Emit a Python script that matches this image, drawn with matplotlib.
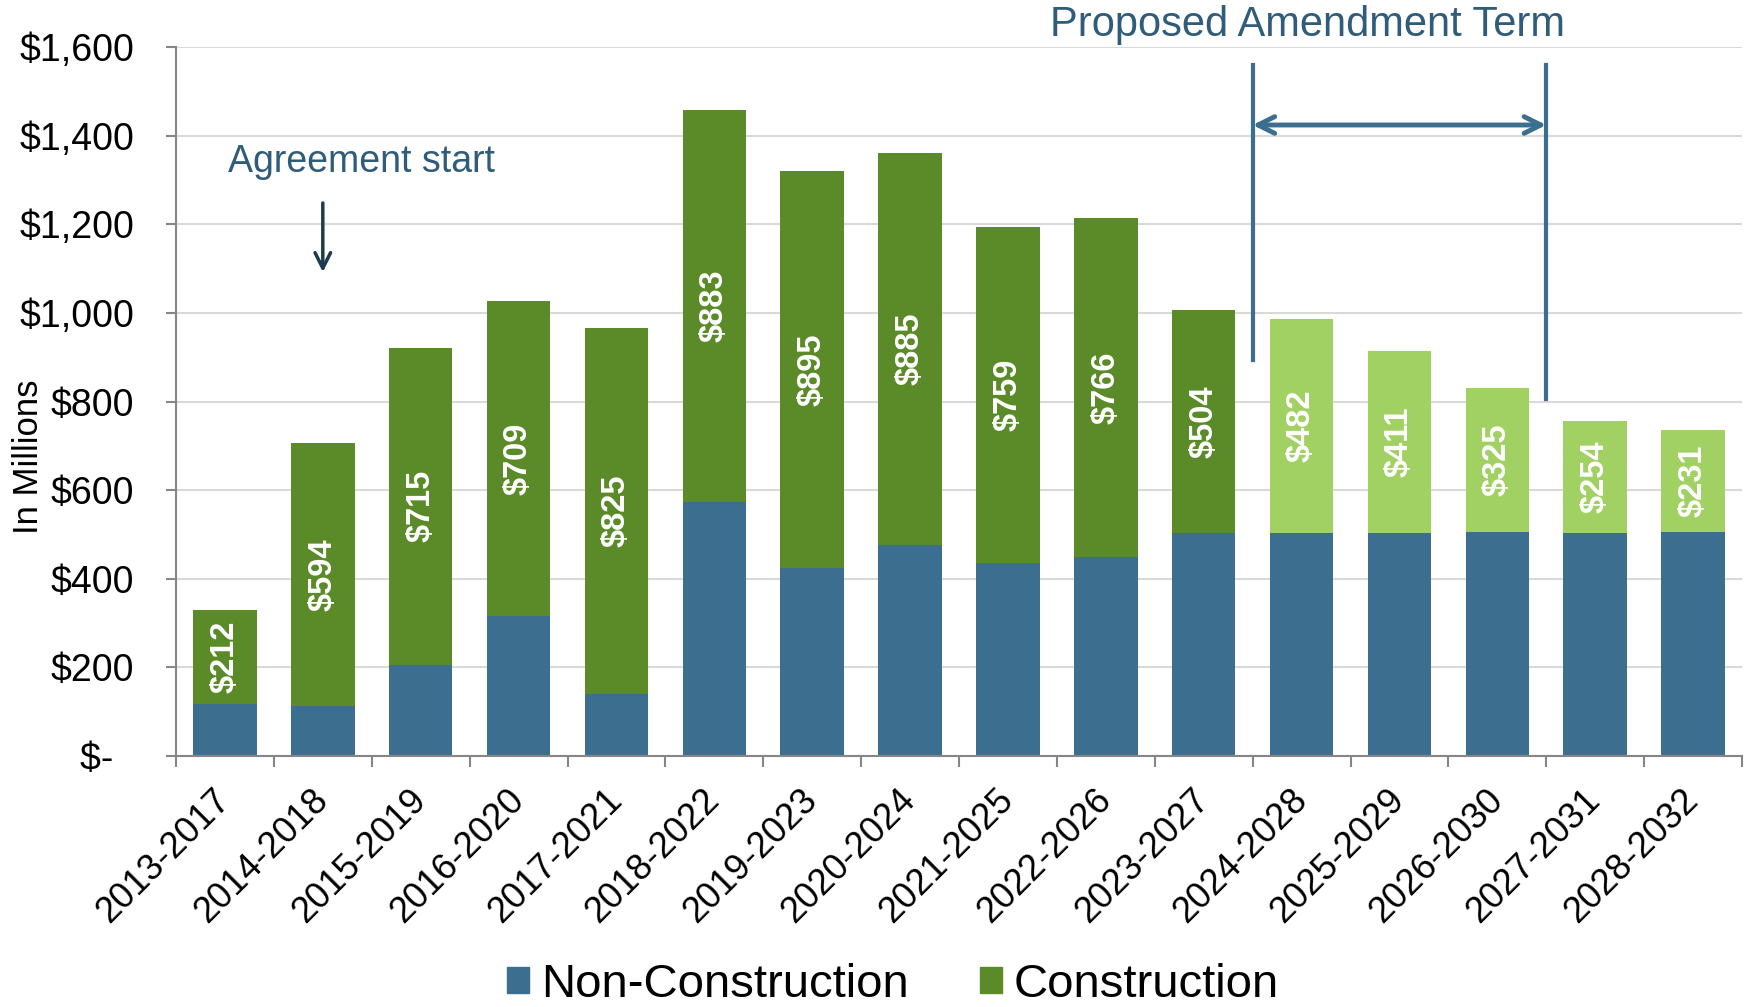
import matplotlib.pyplot as plt
from matplotlib.patches import Patch
from matplotlib.ticker import FuncFormatter, FixedLocator

plt.rcParams['font.family'] = ['Liberation Sans', 'DejaVu Sans']

categories = ['2013-2017', '2014-2018', '2015-2019', '2016-2020', '2017-2021',
              '2018-2022', '2019-2023', '2020-2024', '2021-2025', '2022-2026',
              '2023-2027', '2024-2028', '2025-2029', '2026-2030', '2027-2031',
              '2028-2032']
non_construction = [118, 113, 206, 317, 141, 574, 425, 476, 435, 448,
                    503, 504, 504, 505, 503, 505]
construction = [212, 594, 715, 709, 825, 883, 895, 885, 759, 766,
                504, 482, 411, 325, 254, 231]
amendment_first = '2024-2028'
amendment_last = '2026-2030'

BLUE = '#3b6e8f'
GREEN = '#5b8a29'
LIGHT_GREEN = '#a1d063'
NOTE_BLUE = '#2f5c7a'


def money(v, pos):
    if v == 0:
        return '$-  '
    return f'${v:,.0f}'


def main():
    fig = plt.figure(figsize=(17.48, 10.07), dpi=100)
    ax = fig.add_axes([176 / 1748, 1 - 756 / 1007, (1742 - 176) / 1748, (756 - 47) / 1007])

    x = list(range(len(categories)))
    split = categories.index(amendment_first)
    green_colors = [GREEN if i < split else LIGHT_GREEN for i in x]

    ax.bar(x, non_construction, width=0.65, color=BLUE, zorder=2)
    ax.bar(x, construction, width=0.65, bottom=non_construction, color=green_colors, zorder=2)

    for i in x:
        mid = non_construction[i] + construction[i] / 2
        ax.text(i, mid, f'${construction[i]}', rotation=90, ha='center', va='center',
                color='white', fontsize=23.5, fontweight='bold', zorder=3)

    ax.set_xlim(-0.5, len(categories) - 0.5)
    ax.set_ylim(0, 1600)
    ax.set_yticks(range(0, 1601, 200))
    ax.yaxis.set_major_formatter(FuncFormatter(money))
    ax.grid(axis='y', color='#d9d9d9', linewidth=1.5, zorder=0)

    ax.set_xticks(x)
    ax.set_xticklabels(categories, rotation=45, ha='right', va='center',
                       rotation_mode='anchor', fontsize=26)
    ax.xaxis.set_minor_locator(FixedLocator([i - 0.5 for i in range(len(categories) + 1)]))
    ax.tick_params(axis='x', which='major', length=0, pad=28)
    ax.tick_params(axis='x', which='minor', length=8, width=1.5, color='#868686')
    ax.tick_params(axis='y', length=7, width=1.5, color='#868686', pad=23, labelsize=27)

    for side in ['top', 'right']:
        ax.spines[side].set_visible(False)
    for side in ['left', 'bottom']:
        ax.spines[side].set_color('#868686')
        ax.spines[side].set_linewidth(1.5)

    fig.text(28 / 1748, 1 - 457 / 1007, 'In Millions', rotation=90, ha='center', va='center',
             fontsize=25)

    # agreement start note
    ax.text(1.4, 1340, 'Agreement start', ha='center', va='center', fontsize=27, color=NOTE_BLUE)
    ax.annotate('', xy=(1, 1092), xytext=(1, 1248),
                arrowprops=dict(arrowstyle='->', color='#1d3b4a', lw=2.5, mutation_scale=28,
                                shrinkA=0, shrinkB=0))

    # proposed amendment term bracket
    left = categories.index(amendment_first) - 0.5
    right = categories.index(amendment_last) + 0.5
    ax.plot([left, left], [893, 1560], color=BLUE, lw=3, clip_on=False, zorder=4)
    ax.plot([right, right], [805, 1560], color=BLUE, lw=3, clip_on=False, zorder=4)
    ax.annotate('', xy=(left, 1424), xytext=(right, 1424),
                arrowprops=dict(arrowstyle='<->', color=BLUE, lw=3.5, mutation_scale=30,
                                shrinkA=0, shrinkB=0))
    ax.text((left + right) / 2 - 0.94, 1650, 'Proposed Amendment Term', ha='center', va='center',
            fontsize=30, color=NOTE_BLUE, clip_on=False)

    handles = [Patch(color=BLUE, label='Non-Construction'),
               Patch(color=GREEN, label='Construction')]
    fig.legend(handles=handles, loc='center', bbox_to_anchor=(893 / 1748, 1 - 985 / 1007),
               ncol=2, frameon=False, fontsize=34, handlelength=0.47, handleheight=0.47,
               handletextpad=0.25, columnspacing=1.5)

    fig.savefig('out.png', dpi=100)


if __name__ == '__main__':
    main()
